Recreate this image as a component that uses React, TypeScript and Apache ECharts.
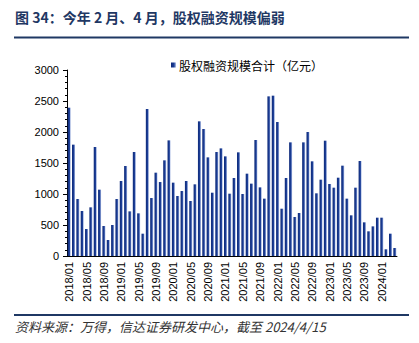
import React, { useEffect, useRef } from "react";
import * as echarts from "echarts";

const categories: string[] = [
  "2018/01","2018/02","2018/03","2018/04","2018/05","2018/06","2018/07","2018/08","2018/09","2018/10","2018/11","2018/12",
  "2019/01","2019/02","2019/03","2019/04","2019/05","2019/06","2019/07","2019/08","2019/09","2019/10","2019/11","2019/12",
  "2020/01","2020/02","2020/03","2020/04","2020/05","2020/06","2020/07","2020/08","2020/09","2020/10","2020/11","2020/12",
  "2021/01","2021/02","2021/03","2021/04","2021/05","2021/06","2021/07","2021/08","2021/09","2021/10","2021/11","2021/12",
  "2022/01","2022/02","2022/03","2022/04","2022/05","2022/06","2022/07","2022/08","2022/09","2022/10","2022/11","2022/12",
  "2023/01","2023/02","2023/03","2023/04","2023/05","2023/06","2023/07","2023/08","2023/09","2023/10","2023/11","2023/12",
  "2024/01","2024/02","2024/03","2024/04",
];

const equityFinancing: number[] = [
  2392, 1796, 919, 726, 435, 785, 1758, 1070, 484, 258, 500, 919,
  1210, 1452, 720, 1677, 688, 360, 2371, 935, 1344, 1193, 1543, 1865,
  1183, 968, 1048, 1210, 887, 1156, 2172, 2048, 1591, 1021, 1677, 1736,
  1607, 1005, 1258, 1672, 1000, 1328, 1167, 1871, 1107, 925, 2575, 2586,
  2161, 763, 1258, 1833, 629, 694, 1833, 2000, 1527, 1011, 1231, 1860,
  1161, 1102, 1263, 1457, 925, 656, 1102, 1532, 543, 398, 478, 618,
  618, 108, 360, 129,
];

const seriesName = "股权融资规模合计（亿元）";
const titleText = "图 34：今年 2 月、4 月，股权融资规模偏弱";
const sourceText = "资料来源：万得，信达证券研发中心，截至 2024/4/15";

export default function App() {
  const ref = useRef<HTMLDivElement>(null);
  useEffect(() => {
    if (!ref.current) return;
    const chart = echarts.init(ref.current, undefined, { renderer: "svg" });
    const navy = "#1f3864";
    chart.setOption({
      animation: false,
      backgroundColor: "#ffffff",
      textStyle: { fontFamily: "Arial, 'Liberation Sans', 'Noto Sans CJK SC'" },
      graphic: [
        {
          type: "text",
          left: 15,
          top: 10,
          style: {
            text: titleText,
            fill: navy,
            font: "bold 14px 'Noto Sans CJK SC', sans-serif",
          },
        },
        {
          type: "line",
          shape: { x1: 14, y1: 37.5, x2: 409, y2: 37.5 },
          style: { stroke: navy, lineWidth: 2 },
        },
        {
          type: "line",
          shape: { x1: 14, y1: 315, x2: 409, y2: 315 },
          style: { stroke: navy, lineWidth: 2 },
        },
        {
          type: "text",
          left: 15,
          top: 320,
          style: {
            text: sourceText,
            fill: "#333333",
            font: "italic 13px 'Noto Sans CJK SC', sans-serif",
          },
        },
      ],
      legend: {
        show: true,
        left: 166,
        top: 54,
        icon: "rect",
        itemWidth: 5,
        itemHeight: 5,
        itemGap: 4,
        textStyle: {
          fontSize: 12,
          color: "#000",
          fontFamily: "'Noto Sans CJK SC', sans-serif",
          padding: [0, 0, 0, -2],
        },
        data: [seriesName],
      },
      grid: { left: 67, right: 22, top: 70, bottom: 87, containLabel: false },
      xAxis: {
        type: "category",
        data: categories,
        boundaryGap: true,
        axisLine: { show: true, lineStyle: { color: "#000", width: 1 } },
        axisTick: { show: true, inside: true, length: 3, interval: 3, alignWithLabel: true, lineStyle: { color: "#000" } },
        axisLabel: {
          interval: 3,
          rotate: 90,
          fontSize: 11,
          color: "#000",
          fontFamily: "Arial, 'Liberation Sans'",
          margin: 6,
        },
        splitLine: { show: false },
      },
      yAxis: {
        type: "value",
        min: 0,
        max: 3000,
        interval: 500,
        axisLine: { show: true, lineStyle: { color: "#000", width: 1 } },
        axisTick: { show: true, inside: false, length: 4, lineStyle: { color: "#000" } },
        minorTick: { show: true, splitNumber: 5, length: 2, lineStyle: { color: "#000" } },
        axisLabel: {
          fontSize: 11,
          color: "#000",
          fontFamily: "Arial, 'Liberation Sans'",
          margin: 8,
          formatter: (v: number) => String(v),
        },
        splitLine: { show: false },
      },
      series: [
        {
          name: seriesName,
          type: "bar",
          data: equityFinancing,
          barWidth: 3,
          itemStyle: {
            color: new echarts.graphic.LinearGradient(0, 0, 1, 0, [
              { offset: 0, color: "#0f2a78" },
              { offset: 0.6, color: "#1c3f98" },
              { offset: 1, color: "#b9c7ea" },
            ]),
          },
        },
      ],
    });
    return () => chart.dispose();
  }, []);
  return (
    <div
      ref={ref}
      style={{ position: "fixed", left: 0, top: 0, width: 419, height: 343 }}
    />
  );
}
